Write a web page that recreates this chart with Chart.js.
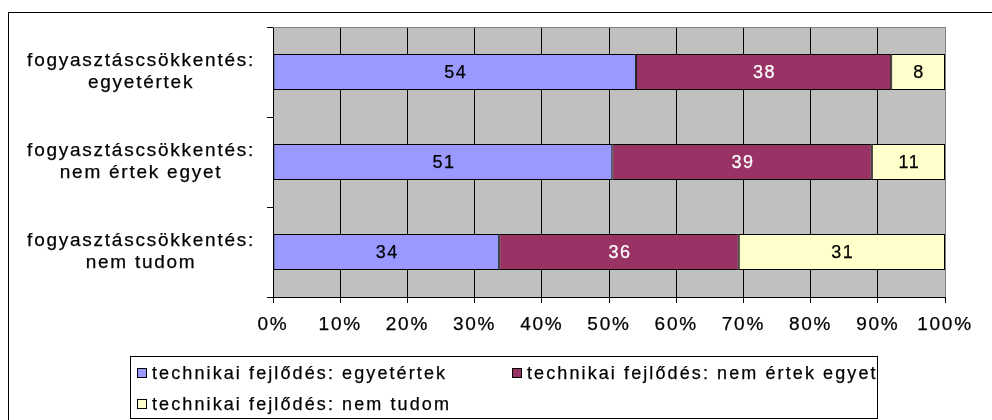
<!DOCTYPE html>
<html>
<head>
<meta charset="utf-8">
<script src="https://cdn.jsdelivr.net/npm/chart.js@4"></script>
<style>
  html, body { margin: 0; padding: 0; background: #fff; }
  #wrap { width: 992px; height: 420px; position: relative; }
</style>
</head>
<body>
<div id="wrap"><canvas id="chart" width="992" height="420"></canvas></div>
<script>
// adatok
const categories = [
  ['fogyasztáscsökkentés:', 'egyetértek'],
  ['fogyasztáscsökkentés:', 'nem értek egyet'],
  ['fogyasztáscsökkentés:', 'nem tudom']
];
const seriesNames = [
  'technikai fejlődés: egyetértek',
  'technikai fejlődés: nem értek egyet',
  'technikai fejlődés: nem tudom'
];
const agreeValues = [54, 51, 34];
const disagreeValues = [38, 39, 36];
const dontKnowValues = [8, 11, 31];
const tickStep = 10;

const seriesRaw = [agreeValues, disagreeValues, dontKnowValues];
const seriesColors = ['#9999FF', '#993366', '#FFFFCC'];
const labelColors = ['#000', '#fff', '#000'];
const FONT = 'Liberation Sans, Arial, sans-serif';
const AXIS_SPACING = '1.75px';
const STROKE = 0.25;

// 100%-ra normalizálás
const totals = categories.map((_, i) => seriesRaw.reduce((s, arr) => s + arr[i], 0));
const toPercent = arr => arr.map((v, i) => v / totals[i] * 100);

const spacingPlugin = {
  id: 'spacing',
  beforeUpdate(chart) { chart.ctx.letterSpacing = AXIS_SPACING; },
  beforeDraw(chart) { chart.ctx.letterSpacing = AXIS_SPACING; }
};

// szürke háttér + felső szegély
const plotAreaPlugin = {
  id: 'plotArea',
  beforeDraw(chart) {
    const { ctx, chartArea: a } = chart;
    ctx.save();
    ctx.fillStyle = '#C0C0C0';
    ctx.fillRect(a.left, a.top, a.right - a.left, a.bottom - a.top);
    ctx.restore();
  },
  beforeDatasetsDraw(chart) {
    const { ctx, chartArea: a } = chart;
    ctx.save();
    ctx.strokeStyle = '#808080';
    ctx.lineWidth = 1;
    ctx.beginPath();
    ctx.moveTo(a.left, Math.round(a.top) + 0.5);
    ctx.lineTo(a.right + 1, Math.round(a.top) + 0.5);
    ctx.stroke();
    ctx.restore();
  }
};

// szöveg kissé vastagabb rajzolása
function heavyText(ctx, text, x, y, color) {
  ctx.fillStyle = color;
  ctx.strokeStyle = color;
  ctx.lineWidth = STROKE;
  ctx.fillText(text, x, y);
  ctx.strokeText(text, x, y);
}

// értékcímkék a sávokon
const valueLabelPlugin = {
  id: 'valueLabels',
  afterDatasetsDraw(chart) {
    const ctx = chart.ctx;
    ctx.save();
    ctx.letterSpacing = '1.5px';
    ctx.font = '18px ' + FONT;
    ctx.textAlign = 'center';
    ctx.textBaseline = 'middle';
    chart.data.datasets.forEach((ds, di) => {
      const meta = chart.getDatasetMeta(di);
      meta.data.forEach((bar, i) => {
        const { x, y, base } = bar.getProps(['x', 'y', 'base'], true);
        heavyText(ctx, String(seriesRaw[di][i]), (x + base) / 2 + 1, y + 1, labelColors[di]);
      });
    });
    ctx.restore();
  }
};

// keretes jelmagyarázat + külső keret
const legendBoxPlugin = {
  id: 'legendBox',
  afterDraw(chart) {
    const ctx = chart.ctx;
    ctx.save();
    ctx.strokeStyle = '#000';
    ctx.lineWidth = 1;
    ctx.strokeRect(8.5, 12.5, 1000, 420);
    ctx.strokeRect(130.5, 356.5, 747, 62);

    const spots = [[137, 373], [512, 373], [137, 404]];
    ctx.font = '18px ' + FONT;
    ctx.letterSpacing = '2.1px';
    ctx.textBaseline = 'middle';
    ctx.textAlign = 'left';
    chart.data.datasets.forEach((ds, i) => {
      const [sx, sy] = spots[i];
      ctx.fillStyle = ds.backgroundColor;
      ctx.fillRect(sx, sy - 5, 10, 10);
      ctx.strokeStyle = '#000';
      ctx.lineWidth = 1;
      ctx.strokeRect(sx + 0.5, sy - 4.5, 9, 9);
      heavyText(ctx, ds.label, sx + 15, sy + 1, '#000');
    });
    ctx.restore();
  }
};

new Chart(document.getElementById('chart'), {
  type: 'bar',
  data: {
    labels: categories,
    datasets: seriesRaw.map((arr, i) => ({
      label: seriesNames[i],
      data: toPercent(arr),
      backgroundColor: seriesColors[i],
      borderColor: '#000',
      borderWidth: 1,
      borderSkipped: false,
      barPercentage: 0.4,
      categoryPercentage: 1
    }))
  },
  options: {
    indexAxis: 'y',
    responsive: false,
    animation: false,
    events: [],
    layout: { padding: { left: 0, right: 47, top: 27, bottom: 0 } },
    plugins: {
      legend: { display: false },
      tooltip: { enabled: false }
    },
    scales: {
      x: {
        stacked: true,
        min: 0,
        max: 100,
        afterFit: s => { s.height = 123; },
        ticks: {
          stepSize: tickStep,
          color: '#000',
          textStrokeColor: '#000',
          textStrokeWidth: STROKE,
          padding: 10,
          font: { family: FONT, size: 19 },
          maxRotation: 0,
          callback: v => v + '%'
        },
        grid: {
          color: c => (c.tick && c.tick.value === 100 ? '#808080' : '#000'),
          tickColor: '#000',
          tickLength: 6,
          lineWidth: 1
        },
        border: { color: '#000' }
      },
      y: {
        stacked: true,
        afterFit: s => {
          s.width = 273;
          s.paddingTop = 0;
          s.paddingBottom = 0;
        },
        ticks: {
          color: '#000',
          textStrokeColor: '#000',
          textStrokeWidth: STROKE,
          crossAlign: 'center',
          padding: 12,
          font: { family: FONT, size: 19, lineHeight: 1.18 }
        },
        grid: {
          offset: true,
          drawOnChartArea: false,
          drawTicks: true,
          tickLength: 6,
          color: '#000'
        },
        border: { color: '#000' }
      }
    }
  },
  plugins: [spacingPlugin, plotAreaPlugin, valueLabelPlugin, legendBoxPlugin]
});
</script>
</body>
</html>
